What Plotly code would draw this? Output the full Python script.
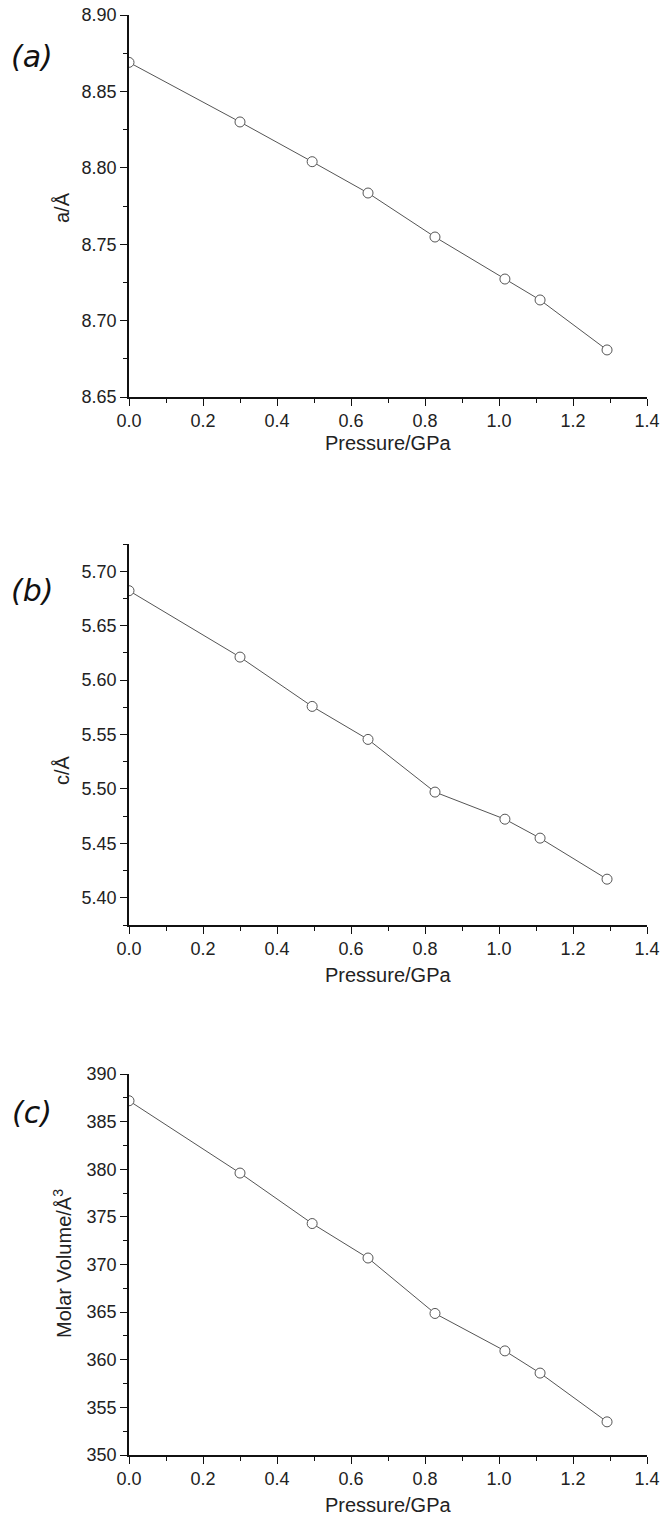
import plotly.graph_objects as go

# Pressure points (GPa) shared by all three panels
pressure = [0.0, 0.30, 0.495, 0.646, 0.827, 1.016, 1.111, 1.292]

# Lattice parameters and molar volume against pressure
a_param = [8.869, 8.830, 8.804, 8.7835, 8.7547, 8.7272, 8.7135, 8.6808]
c_param = [5.6821, 5.6211, 5.5758, 5.5455, 5.4971, 5.4722, 5.4548, 5.4171]
molar_volume = [387.19, 379.60, 374.30, 370.68, 364.86, 360.93, 358.60, 353.48]

panel_tags = ["(a)", "(b)", "(c)"]
y_titles = ["a/Å", "c/Å", "Molar Volume/Å<sup>3</sup>"]
x_title = "Pressure/GPa"

x_ticks = [0.0, 0.2, 0.4, 0.6, 0.8, 1.0, 1.2, 1.4]
y_ranges = [[8.65, 8.90], [5.375, 5.725], [350, 390]]
y_dticks = [0.05, 0.05, 5]
y_formats = [".2f", ".2f", "d"]

W, H = 663, 1519
PLOT_L, PLOT_R = 129, 647
panel_px = [(15, 397), (544, 925), (1074, 1455)]  # top, bottom in pixels
tag_y_px = [57, 590, 1112]
ytitle_y_px = [208, 770, 1264]
xtitle_gap_px = [46, 50, 50]

LINE = "#555555"
AXIS = "#111111"
FONT = "Liberation Sans, Arial, sans-serif"

fig = go.Figure()
series = [a_param, c_param, molar_volume]

for i, values in enumerate(series):
    n = "" if i == 0 else str(i + 1)
    fig.add_trace(go.Scatter(
        x=pressure, y=values, mode="lines+markers",
        xaxis="x" + n, yaxis="y" + n,
        line=dict(color=LINE, width=1),
        marker=dict(symbol="circle", size=10, color="white",
                    line=dict(color=LINE, width=1)),
        showlegend=False,
    ))

    top, bot = panel_px[i]
    ydom = [1 - bot / H, 1 - top / H]
    xdom = [PLOT_L / W, PLOT_R / W]

    fig.layout["xaxis" + n] = dict(
        domain=xdom, anchor="y" + n, range=[0, 1.4],
        tickvals=x_ticks, ticktext=[f"{v:.1f}" for v in x_ticks],
        showgrid=False, zeroline=False,
        showline=True, linecolor=AXIS, linewidth=1.6,
        ticks="outside", ticklen=7, tickwidth=1.4, tickcolor=AXIS,
        minor=dict(ticks="outside", ticklen=4, tickwidth=1.2,
                   tickcolor=AXIS, dtick=0.1, tick0=0, showgrid=False),
        tickfont=dict(family=FONT, size=18, color="#222222"),
        automargin=False, fixedrange=True,
    )
    fig.layout["yaxis" + n] = dict(
        domain=ydom, anchor="x" + n, range=y_ranges[i],
        dtick=y_dticks[i], tick0=0, tickformat=y_formats[i],
        showgrid=False, zeroline=False,
        showline=True, linecolor=AXIS, linewidth=1.6,
        ticks="outside", ticklen=7, tickwidth=1.4, tickcolor=AXIS,
        minor=dict(ticks="outside", ticklen=4, tickwidth=1.2,
                   tickcolor=AXIS, dtick=y_dticks[i] / 2, tick0=0,
                   showgrid=False),
        tickfont=dict(family=FONT, size=18, color="#222222"),
        automargin=False, fixedrange=True,
    )

    # panel tag
    fig.add_annotation(
        x=32 / W, y=1 - tag_y_px[i] / H, xref="paper", yref="paper",
        text="<i>" + panel_tags[i] + "</i>", showarrow=False,
        xanchor="center", yanchor="middle",
        font=dict(family="DejaVu Sans, Verdana, sans-serif", size=30,
                  color="#111111"),
    )
    # y-axis title
    fig.add_annotation(
        x=62 / W, y=1 - ytitle_y_px[i] / H, xref="paper", yref="paper",
        text=y_titles[i], showarrow=False, textangle=-90,
        xanchor="center", yanchor="middle",
        font=dict(family=FONT, size=20, color="#222222"),
    )
    # x-axis title
    fig.add_annotation(
        x=(PLOT_L + PLOT_R) / 2 / W, y=1 - (bot + xtitle_gap_px[i]) / H,
        xref="paper", yref="paper",
        text=x_title, showarrow=False,
        xanchor="center", yanchor="middle",
        font=dict(family=FONT, size=20, color="#222222"),
    )

fig.update_layout(
    width=W, height=H,
    margin=dict(l=0, r=0, t=0, b=0),
    paper_bgcolor="white", plot_bgcolor="white",
)

fig.write_html("out.html")
